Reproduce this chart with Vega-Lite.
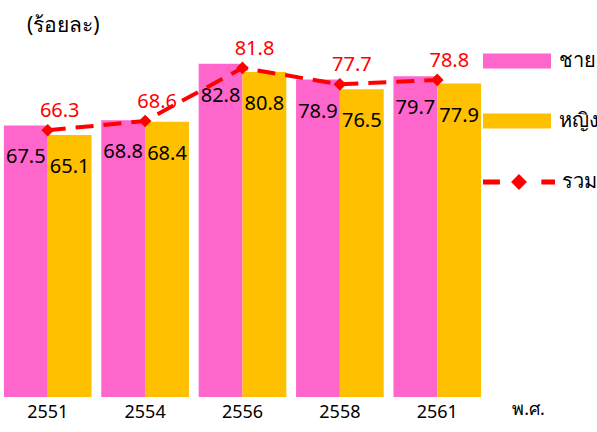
{
  "$schema": "https://vega.github.io/schema/vega-lite/v6.json",
  "width": 485,
  "height": 342,
  "autosize": {"type": "none"},
  "padding": {"left": 0, "top": 55, "right": 112, "bottom": 35},
  "config": {"view": {"stroke": null}, "font": "Noto Sans"},
  "title": {"text": "(ร้อยละ)", "anchor": "start", "frame": "group", "dx": 27, "dy": 14, "fontSize": 21, "fontWeight": "normal", "offset": 5, "color": "black"},
  "datasets": {
    "bars": [
      {"year": "2551", "sex": "ชาย", "value": 67.5},
      {"year": "2551", "sex": "หญิง", "value": 65.1},
      {"year": "2554", "sex": "ชาย", "value": 68.8},
      {"year": "2554", "sex": "หญิง", "value": 68.4},
      {"year": "2556", "sex": "ชาย", "value": 82.8},
      {"year": "2556", "sex": "หญิง", "value": 80.8},
      {"year": "2558", "sex": "ชาย", "value": 78.9},
      {"year": "2558", "sex": "หญิง", "value": 76.5},
      {"year": "2561", "sex": "ชาย", "value": 79.7},
      {"year": "2561", "sex": "หญิง", "value": 77.9}
    ],
    "total": [
      {"year": "2551", "value": 66.3},
      {"year": "2554", "value": 68.6},
      {"year": "2556", "value": 81.8},
      {"year": "2558", "value": 77.7},
      {"year": "2561", "value": 78.8}
    ]
  },
  "encoding": {
    "x": {"field": "year", "type": "nominal", "scale": {"paddingInner": 0.1, "paddingOuter": 0.04},
      "axis": {"title": "พ.ศ.", "titleX": 528, "titleY": 3, "titleBaseline": "top", "titleAlign": "center", "titleFontSize": 18, "titleFontWeight": "normal", "titleColor": "black", "labelFontSize": 18, "labelAngle": 0, "labelPadding": 6, "labelColor": "black", "domain": false, "ticks": false}},
    "y": {"field": "value", "type": "quantitative", "scale": {"domain": [0, 85]}, "axis": null}
  },
  "layer": [
    {
      "data": {"name": "bars"},
      "mark": {"type": "bar"},
      "encoding": {
        "xOffset": {"field": "sex", "type": "nominal", "sort": ["ชาย", "หญิง"]},
        "fill": {"field": "sex", "type": "nominal", "scale": {"domain": ["ชาย", "หญิง"], "range": ["#FF66CC", "#FFC000"]},
          "legend": {"orient": "none", "legendX": 483, "legendY": -28, "title": null, "symbolType": "M-1,-0.22H1V0.22H-1Z", "symbolSize": 4624, "symbolStrokeWidth": 0, "symbolOpacity": 1, "labelFontSize": 20, "labelColor": "black", "labelOffset": 8, "rowPadding": 16}}
      }
    },
    {
      "data": {"name": "bars"},
      "mark": {"type": "text", "dy": 32, "fontSize": 20, "color": "black"},
      "encoding": {
        "xOffset": {"field": "sex", "type": "nominal", "sort": ["ชาย", "หญิง"]},
        "text": {"field": "value", "type": "quantitative", "format": ".1f"}
      }
    },
    {
      "data": {"name": "total"},
      "mark": {"type": "line", "strokeWidth": 4, "strokeDash": [18, 10]},
      "encoding": {
        "stroke": {"datum": "รวม", "type": "nominal", "scale": {"domain": ["รวม"], "range": ["#FF0000"]},
          "legend": {"orient": "none", "legendX": 483, "legendY": 91, "title": null, "symbolType": "M-1,-0.07H-0.53V0.07H-1Z M-0.22,0L0,-0.22L0.22,0L0,0.22Z M0.62,-0.07H1V0.07H0.62Z", "symbolSize": 5184, "symbolFillColor": "#FF0000", "symbolStrokeWidth": 0, "labelFontSize": 20, "labelColor": "black", "labelOffset": 7,
            "encode": {"symbols": {"update": {"fill": {"value": "#FF0000"}, "strokeWidth": {"value": 0}, "opacity": {"value": 1}}}}}}
      }
    },
    {
      "data": {"name": "total"},
      "mark": {"type": "point", "shape": "diamond", "filled": true, "size": 160, "color": "#FF0000", "opacity": 1}
    },
    {
      "data": {"name": "total"},
      "mark": {"type": "text", "dx": 12, "dy": -19, "fontSize": 20, "color": "#FF0000"},
      "encoding": {"text": {"field": "value", "type": "quantitative", "format": ".1f"}}
    }
  ]
}
